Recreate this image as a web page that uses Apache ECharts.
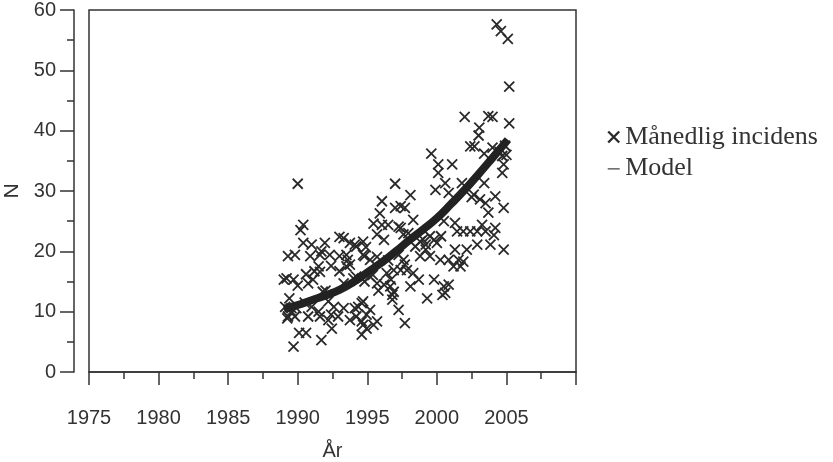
<!DOCTYPE html>
<html>
<head>
<meta charset="utf-8">
<script src="https://cdn.jsdelivr.net/npm/echarts@6/dist/echarts.min.js"></script>
<style>
  html, body { margin: 0; padding: 0; background: #fff; }
  #chart { width: 833px; height: 462px; }
</style>
</head>
<body>
<div id="chart"></div>
<script>
// månedlig incidens (år, antal)
var incidenceYear = [
  1989.0, 1989.1, 1989.2, 1989.25, 1989.3, 1989.3, 1989.4, 1989.55, 1989.55, 1989.7,
  1989.7, 1989.8, 1989.8, 1989.9, 1990.0, 1990.0, 1990.1, 1990.2, 1990.4, 1990.4,
  1990.5, 1990.6, 1990.6, 1990.75, 1990.75, 1990.9, 1991.0, 1991.0, 1991.1, 1991.2,
  1991.5, 1991.5, 1991.6, 1991.6, 1991.6, 1991.7, 1991.7, 1991.8, 1991.95, 1992.0,
  1992.2, 1992.2, 1992.3, 1992.4, 1992.4, 1992.45, 1992.6, 1992.9, 1993.0, 1993.0,
  1993.0, 1993.3, 1993.3, 1993.3, 1993.5, 1993.5, 1993.6, 1993.75, 1993.75, 1993.75,
  1994.0, 1994.1, 1994.1, 1994.2, 1994.2, 1994.2, 1994.35, 1994.6, 1994.6, 1994.6,
  1994.7, 1994.7, 1994.7, 1994.7, 1994.8, 1994.8, 1994.9, 1994.95, 1994.95, 1995.2,
  1995.2, 1995.2, 1995.4, 1995.45, 1995.45, 1995.7, 1995.7, 1995.7, 1995.7, 1995.8,
  1995.9, 1996.05, 1996.05, 1996.2, 1996.2, 1996.4, 1996.5, 1996.5, 1996.65, 1996.7,
  1996.8, 1996.8, 1996.9, 1996.9, 1997.0, 1997.0, 1997.25, 1997.25, 1997.25, 1997.4,
  1997.4, 1997.4, 1997.6, 1997.6, 1997.7, 1997.7, 1997.7, 1997.85, 1997.95, 1998.1,
  1998.1, 1998.3, 1998.3, 1998.45, 1998.7, 1998.8, 1998.8, 1999.0, 1999.2, 1999.2,
  1999.3, 1999.5, 1999.5, 1999.6, 1999.8, 1999.8, 1999.9, 2000.0, 2000.1, 2000.1,
  2000.25, 2000.3, 2000.4, 2000.5, 2000.5, 2000.6, 2000.6, 2000.85, 2000.85, 2000.85,
  2001.1, 2001.2, 2001.3, 2001.3, 2001.45, 2001.55, 2001.7, 2001.8, 2001.9, 2001.9,
  2002.0, 2002.15, 2002.4, 2002.4, 2002.5, 2002.65, 2002.7, 2002.9, 2002.9, 2003.0,
  2003.05, 2003.1, 2003.25, 2003.4, 2003.4, 2003.5, 2003.5, 2003.7, 2003.7, 2003.85,
  2004.0, 2004.0, 2004.1, 2004.2, 2004.2, 2004.3, 2004.5, 2004.6, 2004.7, 2004.7,
  2004.8, 2004.8, 2004.8, 2004.9, 2005.0, 2005.1, 2005.2, 2005.2
];
var incidenceN = [
  15.3, 10.8, 15.5, 8.9, 9.2, 19.2, 12.2, 10.6, 10.0, 15.3,
  4.2, 9.2, 19.4, 10.6, 14.3, 31.2, 6.5, 23.5, 24.4, 21.4,
  11.5, 16.2, 6.5, 9.2, 14.7, 19.2, 10.8, 21.1, 15.3, 16.7,
  17.5, 10.0, 16.6, 9.2, 19.4, 20.0, 5.3, 13.3, 21.4, 13.5,
  11.7, 8.6, 19.4, 17.6, 9.5, 7.2, 10.8, 9.2, 22.4, 19.2,
  16.7, 22.2, 14.7, 10.6, 17.5, 19.4, 18.6, 21.4, 17.8, 8.6,
  15.5, 21.1, 10.6, 20.8, 15.8, 9.2, 10.8, 11.4, 6.2, 8.4,
  21.6, 19.4, 11.7, 7.8, 19.2, 15.0, 20.7, 7.2, 9.5, 10.3,
  18.6, 15.8, 16.1, 24.6, 7.8, 19.1, 14.7, 22.8, 8.4, 13.5,
  26.3, 28.3, 24.4, 21.9, 14.5, 16.4, 24.4, 18.5, 14.2, 15.3,
  12.8, 12.0, 13.3, 16.9, 27.2, 31.2, 24.1, 19.4, 10.3, 23.9,
  27.5, 16.9, 22.8, 18.6, 27.2, 17.8, 8.1, 16.9, 23.0, 29.3,
  14.2, 25.2, 16.4, 20.8, 15.3, 21.6, 19.2, 22.0, 20.3, 21.1,
  12.2, 22.5, 19.2, 36.2, 21.9, 15.3, 30.2, 21.4, 34.4, 33.0,
  18.6, 22.5, 12.8, 25.0, 14.2, 31.3, 13.1, 29.7, 18.6, 14.5,
  34.4, 17.5, 24.7, 20.3, 23.3, 18.6, 17.5, 31.3, 23.3, 18.3,
  42.3, 20.3, 37.4, 23.3, 29.0, 29.4, 37.4, 23.3, 21.1, 39.2,
  40.5, 28.6, 24.4, 36.2, 31.3, 28.0, 23.3, 42.4, 26.4, 21.1,
  42.3, 37.2, 22.7, 29.1, 23.9, 57.6, 36.5, 56.5, 35.8, 33.0,
  34.4, 27.2, 20.3, 37.5, 36.0, 55.2, 47.3, 41.2
];

// modelkurve
var modelYear = [1989, 1990, 1991, 1992, 1993, 1994, 1995, 1996, 1997,
                 1998, 1999, 2000, 2001, 2002, 2003, 2004, 2005.1];
var modelN = [10.5, 11.1, 11.9, 12.7, 13.6, 14.9, 16.5, 18.1, 19.9,
              21.8, 23.6, 25.5, 27.8, 30.2, 32.8, 35.5, 38.5];

// x-aksens tal (2010 står uden tal)
var xTickLabels = ['1975', '1980', '1985', '1990', '1995', '2000', '2005'];

var xMin = 1975, xMax = 2010, xStep = 5;
var yMin = 0, yMax = 60, yStep = 10;

var crossPath = 'path://M0,0L10,10M10,0L0,10';
var dashPath = 'path://M0,0L0,0.01Z M0,5.8H12V7H0Z M0,11L0,11.01Z';
var axisColor = '#333';
var labelFont = 'Liberation Sans, Arial, sans-serif';

var scatterData = incidenceYear.map(function (x, i) { return [x, incidenceN[i]]; });
var modelData = modelYear.map(function (x, i) { return [x, modelN[i]]; });

var chart = echarts.init(document.getElementById('chart'), null, { renderer: 'canvas' });
chart.setOption({
  animation: false,
  backgroundColor: '#fff',
  grid: {
    left: 89, right: 257, top: 10, bottom: 90,
    outerBoundsMode: 'none',
    containLabel: false,
    show: true, borderColor: axisColor, borderWidth: 1.5, backgroundColor: 'transparent'
  },
  legend: {
    orient: 'vertical',
    left: 602, top: 119,
    itemWidth: 13, itemHeight: 11, itemGap: 5,
    selectedMode: false,
    textStyle: { fontFamily: 'Liberation Serif, Times New Roman, serif', fontSize: 26, color: '#333' },
    data: [
      { name: 'Månedlig incidens', icon: crossPath,
        itemStyle: { color: 'rgba(0,0,0,0)', borderColor: '#2a2a2a', borderWidth: 2.4 } },
      { name: 'Model', icon: dashPath,
        itemStyle: { color: '#444', borderWidth: 0 } }
    ]
  },
  xAxis: {
    type: 'value',
    min: xMin, max: xMax, interval: xStep,
    offset: 17,
    name: 'År', nameLocation: 'middle', nameGap: 52,
    nameTextStyle: { fontFamily: labelFont, fontSize: 20, color: axisColor },
    axisLine: { show: true, lineStyle: { color: axisColor, width: 1.5 } },
    axisTick: { show: true, length: 13, lineStyle: { color: axisColor, width: 1.5 } },
    minorTick: { show: true, splitNumber: 2, length: 7, lineStyle: { color: axisColor, width: 1.5 } },
    splitLine: { show: false },
    axisLabel: {
      fontFamily: labelFont, fontSize: 20, color: axisColor, margin: 19,
      formatter: function (v) {
        var s = String(Math.round(v));
        return xTickLabels.indexOf(s) >= 0 ? s : '';
      }
    }
  },
  yAxis: {
    type: 'value',
    min: yMin, max: yMax, interval: yStep,
    offset: 15,
    name: 'N', nameLocation: 'middle', nameGap: 49,
    nameTextStyle: { fontFamily: labelFont, fontSize: 21, color: axisColor },
    axisLine: { show: true, lineStyle: { color: axisColor, width: 1.5 } },
    axisTick: { show: true, length: 14, lineStyle: { color: axisColor, width: 1.5 } },
    minorTick: { show: true, splitNumber: 2, length: 7, lineStyle: { color: axisColor, width: 1.5 } },
    splitLine: { show: false },
    axisLabel: { fontFamily: labelFont, fontSize: 20, color: axisColor, margin: 18 }
  },
  series: [
    {
      name: 'Månedlig incidens',
      type: 'scatter',
      data: scatterData,
      symbol: crossPath,
      symbolSize: 10,
      itemStyle: { color: 'rgba(0,0,0,0)', borderColor: '#2a2a2a', borderWidth: 1.8, opacity: 1 },
      silent: true,
      z: 2
    },
    {
      name: 'Model',
      type: 'line',
      data: modelData,
      smooth: true,
      showSymbol: false,
      lineStyle: { color: '#222', width: 8, cap: 'butt' },
      silent: true,
      z: 3
    }
  ]
});
</script>
</body>
</html>
